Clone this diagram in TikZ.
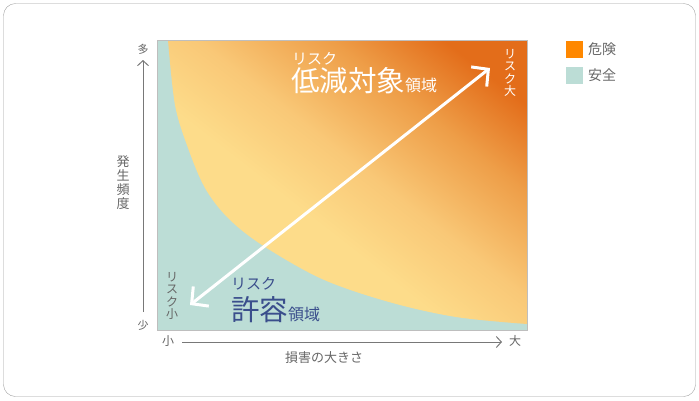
\documentclass[tikz,border=0pt]{standalone}
\usepackage{fontspec}
\setmainfont{Noto Sans CJK JP}
\usetikzlibrary{arrows.meta}

\definecolor{safe}{RGB}{188,221,214}
\definecolor{danger}{RGB}{255,136,0}
\definecolor{risklow}{RGB}{253,220,138}
\definecolor{riskmid}{RGB}{249,200,119}
\definecolor{riskdeep}{RGB}{238,158,72}
\definecolor{riskhigh}{RGB}{227,109,26}
\definecolor{textgray}{RGB}{102,102,102}
\definecolor{axisgray}{RGB}{120,120,120}
\definecolor{boxgray}{RGB}{190,190,190}
\definecolor{framegray}{RGB}{160,160,160}
\definecolor{lowblue}{RGB}{58,78,140}

\pgfdeclareverticalshading{riskfade}{100bp}{color(0bp)=(risklow); color(42bp)=(risklow); color(53bp)=(riskmid); color(66bp)=(riskdeep); color(77bp)=(riskhigh); color(100bp)=(riskhigh)}

\begin{document}
\begin{tikzpicture}[x=1pt,y=-1pt]

\tikzset{tag/.style = {text=textgray, inner sep=0pt, font=\fontsize{12}{14}\selectfont}}
\tikzset{vert/.style = {tag, align=center, font=\fontsize{12}{12.5}\selectfont}}
\tikzset{axis/.style = {draw=axisgray, line width=1pt, -{Straight Barb[length=5pt,width=11pt]}}}
\tikzset{keybox/.style = {minimum size=17pt, inner sep=0pt}}
\tikzset{big/.style = {inner sep=0pt, anchor=base west}}

\useasboundingbox (0,0) rectangle (699,400);
\draw[framegray, rounded corners=12pt] (3.5,3.5) rectangle (695.5,396.5);

%areas
\fill[safe] (157,40) rectangle (527,330);
\shade[shading=riskfade, shading angle=-38]
  plot[smooth, tension=0.55] coordinates {(168,40) (175,105) (188,148) (205,188) (228,218) (262,245) (322,279) (389,302) (456,317) (527,324)}
  -- (527,40) -- cycle;
\draw[boxgray] (157,40) rectangle (527,330);

%axes
\coordinate (yFoot) at (143,312);
\coordinate (yTip) at (143,60);
\coordinate (xFoot) at (182,342);
\coordinate (xTip) at (502,342);
\draw[axis] (yFoot) -- (yTip);
\draw[axis] (xFoot) -- (xTip);
\node[tag, font=\fontsize{11}{13}\selectfont] (many) at (143,49) {多};
\node[tag, font=\fontsize{11}{13}\selectfont] (few) at (143,325) {少};
\node[tag] (small) at (168,341) {小};
\node[tag] (large) at (515,341) {大};
\node[tag, font=\fontsize{13}{15}\selectfont] (damage) at (324,358) {損害の大きさ};
\node[vert, font=\fontsize{13}{14}\selectfont] (freq) at (123,183) {発\\生\\頻\\度};

%risk arrow
\coordinate (riskLow) at (190,305);
\coordinate (riskHigh) at (490,68);
\draw[white, line width=3pt, {Straight Barb[length=12pt,width=25pt]}-{Straight Barb[length=12pt,width=25pt]}] (riskLow) -- (riskHigh);
\node[vert] (lowTag) at (172,296) {リ\\ス\\ク\\小};
\node[vert, text=white] (highTag) at (510,73) {リ\\ス\\ク\\大};

%region labels
\node[big, text=white, font=\fontsize{15}{15}\selectfont] (cutRisk) at (292,64) {リスク};
\node[big, text=white] (cutArea) at (291,91) {\fontsize{28.5}{28.5}\selectfont 低減対象\fontsize{16}{16}\selectfont 領域};
\node[big, text=lowblue, font=\fontsize{15}{15}\selectfont] (okRisk) at (231,289) {リスク};
\node[big, text=lowblue] (okArea) at (231,320) {\fontsize{28.5}{28.5}\selectfont 許容\fontsize{16}{16}\selectfont 領域};

%legend
\node[keybox, fill=danger] (dangerKey) at (574,49) {};
\node[keybox, fill=safe] (safeKey) at (574,75) {};
\node[tag, anchor=west, font=\fontsize{14}{16}\selectfont] (dangerText) at (588,49) {危険};
\node[tag, anchor=west, font=\fontsize{14}{16}\selectfont] (safeText) at (588,75) {安全};

\end{tikzpicture}
\end{document}
